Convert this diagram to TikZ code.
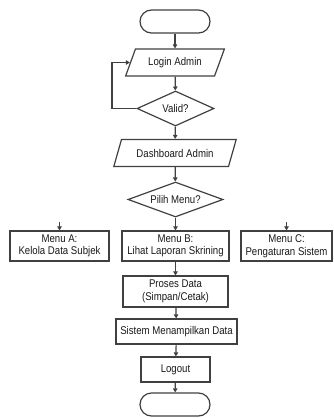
\documentclass[tikz,border=0pt]{standalone}
\usepackage{fontspec}
\setmainfont{Liberation Sans}[FakeStretch=0.86]
\usetikzlibrary{shapes.geometric,arrows.meta}
\begin{document}
\begin{tikzpicture}[x=1pt,y=-1pt,
  every node/.style={font=\fontsize{11.2}{12.5}\selectfont, text=black!90, align=center, inner sep=1pt},
  ln/.style={draw=black!75, line width=1.2pt},
  arr/.style={ln, -{Triangle[length=4pt,width=4.5pt]}},
  term/.style={ln, rectangle, rounded corners=11.5pt, minimum width=70pt, minimum height=23pt},
  io/.style={ln, trapezium, trapezium left angle=61, trapezium right angle=119, trapezium stretches=true, minimum height=27pt},
  dec/.style={ln, diamond, aspect=2.2, inner sep=0pt},
  proc/.style={ln, rectangle, minimum height=30pt},
  proc2/.style={ln, rectangle, minimum height=25pt}
]
\useasboundingbox (0,0) rectangle (333,418);
\node[term] (start) at (175,21.5) {};
\node[io, minimum width=99pt] (login) at (175,62.5) {Login Admin};
\node[dec, minimum width=77pt, minimum height=35pt] (valid) at (175.5,108.5) {Valid?};
\node[io, minimum width=123pt] (dash) at (175,153) {Dashboard Admin};
\node[dec, minimum width=95pt, minimum height=35pt] (pilih) at (175.5,199.5) {Pilih Menu?};
\node[proc, minimum width=99pt] (ma) at (59.5,246) {Menu A:\\Kelola Data Subjek};
\node[proc, minimum width=107pt] (mb) at (175.5,246) {Menu B:\\Lihat Laporan Skrining};
\node[proc, minimum width=91pt] (mc) at (286.5,246) {Menu C:\\Pengaturan Sistem};
\node[proc, minimum width=105pt, minimum height=31pt] (proses) at (175.5,291.5) {Proses Data\\(Simpan/Cetak)};
\node[proc2, minimum width=121pt] (sistem) at (176.5,331.5) {Sistem Menampilkan Data};
\node[proc2, minimum width=69pt] (logout) at (175.5,369.5) {Logout};
\node[term] (end) at (175,404.5) {};
\coordinate (loopc) at (112,108.5);
\coordinate (sa) at (59.5,222);
\coordinate (sc) at (286.5,222);
\draw[arr] (start) -- (login);
\draw[arr] (login) -- (valid);
\draw[arr] (valid.west) -- (loopc) |- (login.west);
\draw[arr] (valid) -- (dash);
\draw[arr] (dash) -- (pilih);
\draw[arr] (pilih) -- (mb);
\draw[arr] (sa) -- (ma);
\draw[arr] (sc) -- (mc);
\draw[arr] (mb) -- (proses);
\draw[arr] (proses) -- (sistem);
\draw[arr] (sistem) -- (logout);
\draw[arr] (logout) -- (end);
\end{tikzpicture}
\end{document}
